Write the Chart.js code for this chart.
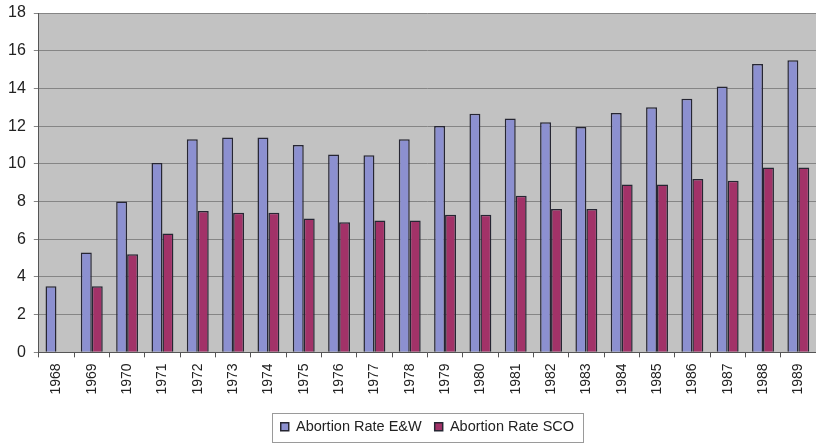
<!DOCTYPE html>
<html>
<head>
<meta charset="utf-8">
<script src="https://cdn.jsdelivr.net/npm/chart.js@4.4.1/dist/chart.umd.min.js"></script>
<style>
  html, body { margin: 0; padding: 0; background: #fff; }
  #wrap { width: 816px; height: 446px; }
</style>
</head>
<body>
<div id="wrap"><canvas id="chart" width="816" height="446"></canvas></div>
<script>
'use strict';

// Years on the x axis
const years = ['1968', '1969', '1970', '1971', '1972', '1973', '1974', '1975', '1976', '1977', '1978',
  '1979', '1980', '1981', '1982', '1983', '1984', '1985', '1986', '1987', '1988', '1989'];

// Abortion rate, England & Wales
const rateEW = [3.5, 5.3, 8.0, 10.05, 11.3, 11.4, 11.4, 11.0, 10.5, 10.45, 11.3,
  12.0, 12.65, 12.4, 12.2, 11.95, 12.7, 13.0, 13.45, 14.1, 15.3, 15.5];

// Abortion rate, Scotland (no value for 1968)
const rateSCO = [null, 3.5, 5.2, 6.3, 7.5, 7.4, 7.4, 7.1, 6.9, 7.0, 7.0,
  7.3, 7.3, 8.3, 7.6, 7.6, 8.9, 8.9, 9.2, 9.1, 9.8, 9.8];

const FONT = 'Liberation Sans, Arial, sans-serif';

// Grey plot area + framed legend, old spreadsheet style
const plotBackground = {
  id: 'plotBackground',
  beforeDraw(chart) {
    const { ctx, chartArea: a } = chart;
    ctx.save();
    ctx.fillStyle = '#c2c2c2';
    ctx.fillRect(a.left, a.top, a.right - a.left, a.bottom - a.top);
    ctx.restore();
  },
  afterDraw(chart) {
    const boxes = chart.legend.legendHitBoxes;
    if (!boxes || !boxes.length) return;
    const left = Math.min(...boxes.map((b) => b.left)) - 9;
    const right = Math.max(...boxes.map((b) => b.left + b.width)) + 9;
    const top = Math.min(...boxes.map((b) => b.top)) - 7;
    const bottom = Math.max(...boxes.map((b) => b.top + b.height)) + 7;
    const { ctx } = chart;
    ctx.save();
    ctx.strokeStyle = '#9a9a9a';
    ctx.lineWidth = 1;
    ctx.strokeRect(Math.round(left) + 0.5, Math.round(top) + 0.5, Math.round(right - left), Math.round(bottom - top));
    ctx.restore();
  },
};

new Chart(document.getElementById('chart'), {
  type: 'bar',
  data: {
    labels: years,
    datasets: [
      {
        label: 'Abortion Rate E&W',
        data: rateEW,
        backgroundColor: '#8c90d0',
        borderColor: '#262633',
        borderWidth: 1.5,
        categoryPercentage: 0.62,
        barPercentage: 1.0,
      },
      {
        label: 'Abortion Rate SCO',
        data: rateSCO,
        backgroundColor: '#a23268',
        borderColor: '#262633',
        borderWidth: 1.5,
        categoryPercentage: 0.62,
        barPercentage: 1.0,
      },
    ],
  },
  options: {
    responsive: false,
    animation: false,
    layout: { padding: { top: 13, right: 0, left: 0, bottom: 2 } },
    scales: {
      x: {
        grid: {
          offset: true,
          drawOnChartArea: false,
          drawTicks: true,
          tickLength: 5,
          color: '#555',
        },
        border: { color: '#555', width: 1 },
        ticks: {
          color: '#222',
          font: { family: FONT, size: 14 },
          minRotation: 90,
          maxRotation: 90,
          autoSkip: false,
          padding: 6,
        },
        // leave a gap between the year labels and the legend,
        // and let the plot run to the right edge
        afterFit: (scale) => {
          scale.height += 6;
          scale.paddingRight = 0;
        },
      },
      y: {
        min: 0,
        max: 18,
        ticks: {
          stepSize: 2,
          color: '#222',
          font: { family: FONT, size: 16 },
          padding: 8,
        },
        grid: {
          color: '#858585',
          lineWidth: 1,
          tickLength: 5,
        },
        border: { color: '#555', width: 1 },
        afterFit: (scale) => {
          scale.paddingTop = 0;
          scale.paddingBottom = 0;
        },
      },
    },
    plugins: {
      legend: {
        position: 'bottom',
        fullSize: false,
        labels: {
          boxWidth: 8,
          boxHeight: 8,
          color: '#222',
          font: { family: FONT, size: 14.5 },
          padding: 13,
        },
      },
      tooltip: { enabled: false },
    },
  },
  plugins: [plotBackground],
});
</script>
</body>
</html>
